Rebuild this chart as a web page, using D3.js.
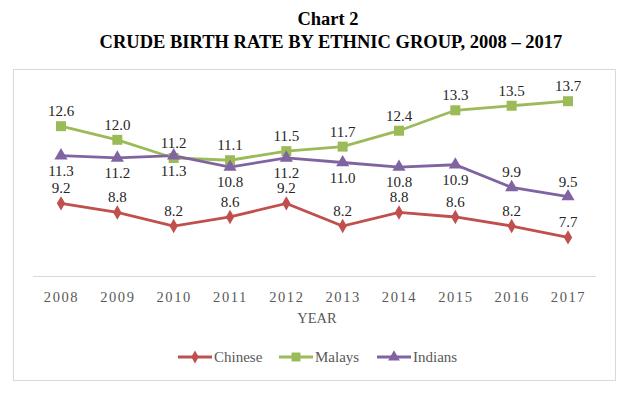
<!DOCTYPE html>
<html>
<head>
<meta charset="utf-8">
<script src="https://cdn.jsdelivr.net/npm/d3@7"></script>
<style>
  body { margin: 0; background: white; }
  svg text { font-family: "Liberation Serif", "Times New Roman", serif; }
</style>
</head>
<body>
<svg id="chart" width="623" height="394"></svg>
<script>
var years = [2008, 2009, 2010, 2011, 2012, 2013, 2014, 2015, 2016, 2017];
var chinese = [9.2, 8.8, 8.2, 8.6, 9.2, 8.2, 8.8, 8.6, 8.2, 7.7];
var malays = [12.6, 12.0, 11.2, 11.1, 11.5, 11.7, 12.4, 13.3, 13.5, 13.7];
var indians = [11.3, 11.2, 11.3, 10.8, 11.2, 11.0, 10.8, 10.9, 9.9, 9.5];
// label side per point: -1 above, 1 below
var indianLabelSide = [1, 1, 1, 1, 1, 1, 1, 1, -1, -1];

var series = [
  { name: 'Chinese', values: chinese, color: '#C0504D', symbol: d3.symbolDiamond, size: 60, labelSide: null },
  { name: 'Malays', values: malays, color: '#9BBB59', symbol: d3.symbolSquare, size: 100, labelSide: null },
  { name: 'Indians', values: indians, color: '#8064A2', symbol: d3.symbolTriangle, size: 75, labelSide: indianLabelSide }
];

var svg = d3.select('#chart');

// titles
svg.append('text').attr('x', 328).attr('y', 25).attr('text-anchor', 'middle')
  .attr('font-size', 18.5).attr('font-weight', 'bold').attr('fill', '#000').text('Chart 2');
svg.append('text').attr('x', 331).attr('y', 48).attr('text-anchor', 'middle')
  .attr('font-size', 18.5).attr('font-weight', 'bold').attr('fill', '#000')
  .text('CRUDE BIRTH RATE BY ETHNIC GROUP, 2008 \u2013 2017');

// frame
svg.append('rect').attr('x', 13.5).attr('y', 69.5).attr('width', 602).attr('height', 311)
  .attr('fill', 'none').attr('stroke', '#d9d9d9').attr('stroke-width', 1);

var x = d3.scalePoint().domain(years).range([61, 568]);
var y = d3.scaleLinear().domain([6, 14]).range([276, 94.4]);

// axis
var xAxis = svg.append('g').attr('transform', 'translate(0,276)')
  .call(d3.axisBottom(x).tickSize(0).tickPadding(16));
xAxis.select('.domain').attr('stroke', '#d9d9d9').attr('d', 'M33,0.5H596');
xAxis.selectAll('text').attr('font-size', 14.5).attr('fill', '#595959')
  .style('letter-spacing', '1.6px');

svg.append('text').attr('x', 317).attr('y', 323).attr('text-anchor', 'middle')
  .attr('font-size', 14.5).attr('fill', '#595959').text('YEAR');

var line = d3.line().x(function(d, i) { return x(years[i]); }).y(function(d) { return y(d); });

series.forEach(function(s) {
  svg.append('path').datum(s.values).attr('d', line)
    .attr('fill', 'none').attr('stroke', s.color).attr('stroke-width', 2.8);
});

series.forEach(function(s) {
  var sym = d3.symbol().type(s.symbol).size(s.size);
  svg.selectAll(null).data(s.values).enter().append('path')
    .attr('d', sym)
    .attr('transform', function(d, i) { return 'translate(' + x(years[i]) + ',' + y(d) + ')'; })
    .attr('fill', s.color);
  svg.selectAll(null).data(s.values).enter().append('text')
    .attr('x', function(d, i) { return x(years[i]); })
    .attr('y', function(d, i) {
      var side = s.labelSide ? s.labelSide[i] : -1;
      return side < 0 ? y(d) - 10 : y(d) + 20;
    })
    .attr('text-anchor', 'middle').attr('font-size', 15).attr('fill', '#262626')
    .text(function(d) { return d.toFixed(1); });
});

// legend
var legendX = [178, 279, 377];
series.forEach(function(s, i) {
  var g = svg.append('g').attr('transform', 'translate(' + legendX[i] + ',357)');
  g.append('line').attr('x1', 0).attr('x2', 34).attr('y1', 0).attr('y2', 0)
    .attr('stroke', s.color).attr('stroke-width', 2.8);
  g.append('path').attr('d', d3.symbol().type(s.symbol).size(s.size * 0.8))
    .attr('transform', 'translate(17,0)').attr('fill', s.color);
  g.append('text').attr('x', 36).attr('y', 5).attr('font-size', 15).attr('fill', '#595959').text(s.name);
});
</script>
</body>
</html>
